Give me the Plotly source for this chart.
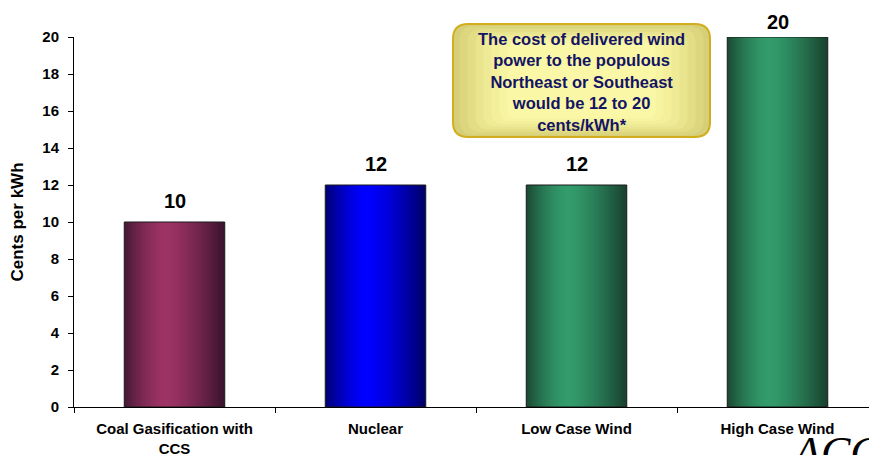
import plotly.graph_objects as go

categories = ["Coal Gasification with<br>CCS", "Nuclear", "Low Case Wind", "High Case Wind"]
values = [10, 12, 12, 20]
y_ticks = [0, 2, 4, 6, 8, 10, 12, 14, 16, 18, 20]
note_text = ("The cost of delivered wind<br>power to the populous<br>Northeast or Southeast"
             "<br>would be 12 to 20<br>cents/kWh*")
y_title = "Cents per kWh"
# pixel lift of each value label above its bar top
label_lift = [21, 21, 21, 15]

# gradient (edge, highlight, edge) per bar
bar_grad = [
    ((0x45, 0x18, 0x35), (0x9e, 0x33, 0x66), (0x3a, 0x14, 0x2e)),
    ((0x00, 0x00, 0x70), (0x00, 0x00, 0xff), (0x00, 0x00, 0x68)),
    ((0x1a, 0x48, 0x32), (0x33, 0x9c, 0x6c), (0x18, 0x42, 0x2e)),
    ((0x1a, 0x48, 0x32), (0x33, 0x9c, 0x6c), (0x18, 0x42, 0x2e)),
]

W = 869; H = 455
L, R, T, B = 74, 0, 37, 48
pw = W - L - R; ph = H - T - B
FONT = "Liberation Sans, Arial"

fig = go.Figure()

N = 60
bw = 0.5
peak = 0.42
def lerp(a, b, t):
    return tuple(int(round(a[k] + (b[k] - a[k]) * t)) for k in range(3))

for i in range(N):
    f = (i + 0.5) / N
    cols = []
    for (e1, c, e2) in bar_grad:
        if f < peak:
            t = f / peak
            t = 1 - (1 - t) ** 1.6
            col = lerp(e1, c, t)
        else:
            t = (f - peak) / (1 - peak)
            t = t ** 1.4
            col = lerp(c, e2, t)
        cols.append("rgb(%d,%d,%d)" % col)
    fig.add_trace(go.Bar(
        x=categories, y=values,
        width=bw / N * 1.6, offset=-bw / 2 + i * bw / N * (1 - 0.6 / N),
        marker=dict(color=cols, line=dict(width=0)),
        hoverinfo="skip", showlegend=False,
    ))

fig.add_trace(go.Bar(
    x=categories, y=values, width=bw, offset=-bw / 2,
    marker=dict(color="rgba(0,0,0,0)", line=dict(width=1, color="#1a1a1a")),
    showlegend=False,
))

for cat, v, lift in zip(categories, values, label_lift):
    fig.add_annotation(x=cat, y=v, xref="x", yref="y", text=str(v), showarrow=False,
                       yshift=lift, yanchor="middle", xanchor="center",
                       font=dict(size=20, color="black", family=FONT, weight="bold"))

# rounded note box
def px2paper(x, y):
    return (x - L) / pw, (H - B - y) / ph

def rounded(bx0, by0, bx1, by1, r):
    def P(x, y):
        a, b = px2paper(x, y)
        return "%.5f,%.5f" % (a, b)
    return ("M " + P(bx0 + r, by0) + " L " + P(bx1 - r, by0) + " Q " + P(bx1, by0) + " " + P(bx1, by0 + r) +
            " L " + P(bx1, by1 - r) + " Q " + P(bx1, by1) + " " + P(bx1 - r, by1) +
            " L " + P(bx0 + r, by1) + " Q " + P(bx0, by1) + " " + P(bx0, by1 - r) +
            " L " + P(bx0, by0 + r) + " Q " + P(bx0, by0) + " " + P(bx0 + r, by0) + " Z")

bx0, by0, bx1, by1, r = 453, 24, 710, 137, 15
fig.add_shape(type="path", path=rounded(bx0, by0, bx1, by1, r), xref="paper", yref="paper",
              fillcolor="#d6cf78", line=dict(color="#d2ae1e", width=2), layer="above")
shades = ["#dcd67f", "#e3dd86", "#e9e48e", "#eeea95", "#f3ef9b", "#f7f4a1", "#faf8a6"]
for k, c in enumerate(shades):
    d = 4 + k * 5
    fig.add_shape(type="path",
                  path=rounded(bx0 + d * 1.6, by0 + d * 0.55, bx1 - d * 1.6, by1 - d * 0.55, max(r - k, 8)),
                  xref="paper", yref="paper", fillcolor=c, line=dict(width=0), layer="above")

cx, cy = px2paper((bx0 + bx1) / 2, (by0 + by1) / 2 + 1)
fig.add_annotation(x=cx, y=cy, xref="paper", yref="paper", text=note_text, showarrow=False,
                   font=dict(size=16.5, color="#141464", family=FONT, weight="bold"),
                   xanchor="center", yanchor="middle", align="center")

# partial logo text
lx, ly = px2paper(835, 452)
fig.add_annotation(x=lx, y=ly, xref="paper", yref="paper", text="<i>ACC</i>", showarrow=False,
                   font=dict(size=44, color="black", family="Liberation Serif"),
                   xanchor="center", yanchor="middle")

fig.update_layout(
    width=W, height=H, margin=dict(l=L, r=R, t=T, b=B, autoexpand=False),
    paper_bgcolor="white", plot_bgcolor="white",
    barmode="overlay", bargap=0.5,
    font=dict(family=FONT, color="black"),
    xaxis=dict(range=[-0.5, -0.5 + pw / 201.0], showline=True, linecolor="black", linewidth=1,
               ticks="outside", tickson="boundaries", ticklen=5, tickcolor="black",
               ticklabelstandoff=8,
               tickfont=dict(size=15, weight="bold"), showgrid=False, fixedrange=True),
    yaxis=dict(range=[0, 20], tickvals=y_ticks, showline=True, linecolor="black", linewidth=1,
               ticks="outside", ticklen=5, tickcolor="black", showgrid=False, zeroline=False,
               ticklabelstandoff=6,
               tickfont=dict(size=15, weight="bold"),
               title=dict(text=y_title, font=dict(size=17, weight="bold"), standoff=14)),
)

fig.write_html("out.html", config={"displayModeBar": False},
               post_script="document.body.style.margin='0';document.body.style.overflow='hidden';")
